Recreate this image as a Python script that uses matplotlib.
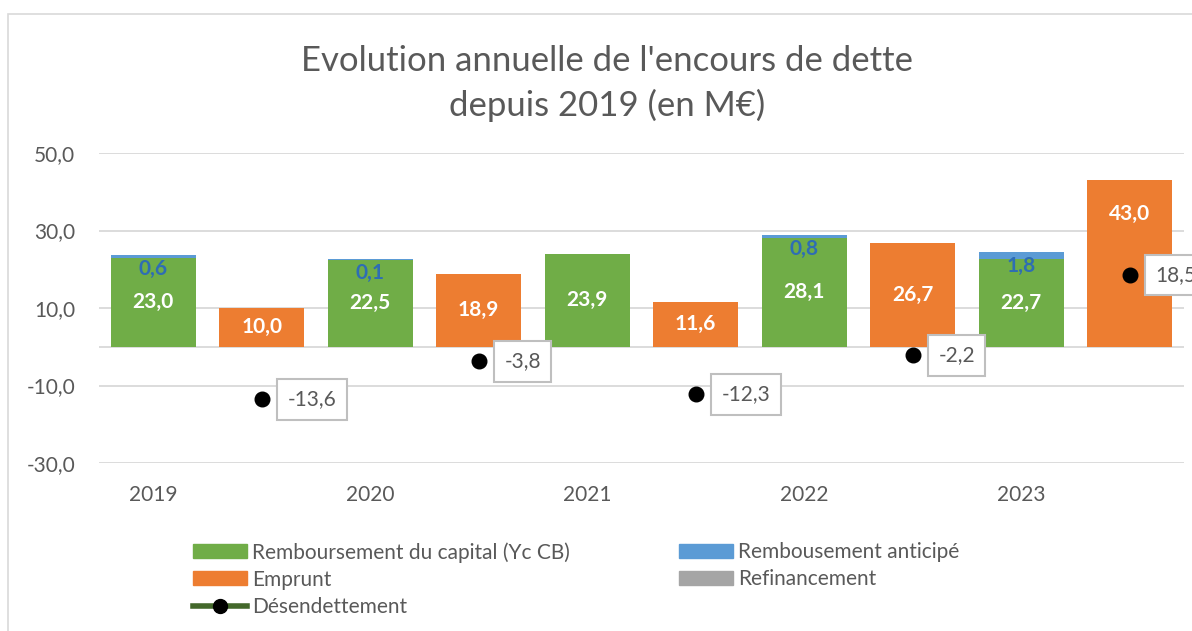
import matplotlib.pyplot as plt
from matplotlib.patches import Patch, Rectangle
from matplotlib.lines import Line2D
import numpy as np

plt.rcParams['font.family'] = ['Lato', 'DejaVu Sans']

# Data (one category per half-year slot, labels only on the years)
categories = ['2019', '', '2020', '', '2021', '', '2022', '', '2023', '']
capital = [23.0, 0, 22.5, 0, 23.9, 0, 28.1, 0, 22.7, 0]
anticipe = [0.6, 0, 0.1, 0, 0, 0, 0.8, 0, 1.8, 0]
emprunt = [0, 10.0, 0, 18.9, 0, 11.6, 0, 26.7, 0, 43.0]
refinancement = [0, 0, 0, 0, 0, 0, 0, 0, 0, 0]
desendettement = [np.nan, -13.6, np.nan, -3.8, np.nan, -12.3, np.nan, -2.2, np.nan, 18.5]
y_ticks = [-30, -10, 10, 30, 50]

GREEN = '#70AD47'
BLUE = '#5B9BD5'
ORANGE = '#ED7D31'
GREY = '#A5A5A5'
TXT = '#595959'
GRID = '#D9D9D9'


def fmt(v):
    return f"{v:.1f}".replace('.', ',')


fig = plt.figure(figsize=(11.92, 6.31), dpi=100)
ax = fig.add_axes([99 / 1192, 1 - 463 / 631, 1085 / 1192, 310 / 631])

# outer chart frame
fig.patches.append(Rectangle((8 / 1192, -0.1), 1.2, (631 - 14) / 631 + 0.1,
                             transform=fig.transFigure, fill=False,
                             edgecolor=GRID, lw=1.2))

x = np.arange(len(categories))
w = 0.78
capital = np.array(capital)
anticipe = np.array(anticipe)
emprunt = np.array(emprunt)
refinancement = np.array(refinancement)

ax.bar(x, capital, w, color=GREEN, zorder=2)
ax.bar(x, anticipe, w, bottom=capital, color=BLUE, zorder=2)
ax.bar(x, emprunt, w, bottom=capital + anticipe, color=ORANGE, zorder=2)
ax.bar(x, refinancement, w, bottom=capital + anticipe + emprunt, color=GREY, zorder=2)
ax.plot(x, desendettement, 'o', color='black', markersize=10.5, zorder=4)

# bar labels
for i in x:
    if capital[i]:
        ax.text(i, capital[i] / 2, fmt(capital[i]), ha='center', va='center',
                color='white', fontsize=15, fontweight='bold', zorder=5)
    if anticipe[i]:
        ax.annotate(fmt(anticipe[i]), (i, capital[i] + anticipe[i]),
                    xytext=(0, -10), textcoords='offset points',
                    ha='center', va='center', color='#2E6DB4',
                    fontsize=15, fontweight='bold', zorder=5)
    if emprunt[i]:
        yl = emprunt[i] / 2 if emprunt[i] < 40 else 34.3
        ax.text(i, yl, fmt(emprunt[i]), ha='center', va='center',
                color='white', fontsize=15, fontweight='bold', zorder=5)
    if not np.isnan(desendettement[i]):
        ax.annotate(fmt(desendettement[i]), (i, desendettement[i]),
                    xytext=(18.5, 0), textcoords='offset points',
                    ha='left', va='center', color=TXT, fontsize=15, zorder=6,
                    annotation_clip=False,
                    bbox=dict(boxstyle='square,pad=0.5', fc='white',
                              ec='#BFBFBF', lw=1.5))

ax.set_xlim(-0.5, len(categories) - 0.5)
ax.set_ylim(-30, 50)
ax.set_yticks(y_ticks)
ax.set_yticklabels([fmt(v) for v in y_ticks])
ax.set_xticks(x)
ax.set_xticklabels(categories)
ax.tick_params(axis='y', length=0, pad=17, labelsize=15, labelcolor=TXT)
ax.tick_params(axis='x', length=0, pad=16, labelsize=15, labelcolor=TXT)
ax.grid(axis='y', color=GRID, lw=1.3, zorder=0)
ax.axhline(0, color=GRID, lw=1.3, zorder=1)
ax.set_axisbelow(True)
for s in ax.spines.values():
    s.set_visible(False)

fig.text(607 / 1192, 1 - 61 / 631, "Evolution annuelle de l'encours de dette",
         ha='center', va='center', fontsize=25, color=TXT)
fig.text(607 / 1192, 1 - 105 / 631, "depuis 2019 (en M€)",
         ha='center', va='center', fontsize=25, color=TXT)

leg_kw = dict(loc='upper left', frameon=False, fontsize=15, labelcolor=TXT,
              borderpad=0, borderaxespad=0, handlelength=2.6,
              handleheight=0.65, handletextpad=0.25, labelspacing=0.34)
h1 = [Patch(color=GREEN, label='Remboursement du capital (Yc CB)'),
      Patch(color=ORANGE, label='Emprunt'),
      Line2D([], [], color='#43682B', lw=4, marker='o', markersize=10,
             markerfacecolor='black', markeredgecolor='black',
             label='Désendettement')]
h2 = [Patch(color=BLUE, label='Rembousement anticipé'),
      Patch(color=GREY, label='Refinancement')]
fig.legend(handles=h1, bbox_to_anchor=(193 / 1192, 1 - 542 / 631), **leg_kw)
fig.legend(handles=h2, bbox_to_anchor=(679 / 1192, 1 - 542 / 631), **leg_kw)

fig.savefig('out.png', dpi=100)
